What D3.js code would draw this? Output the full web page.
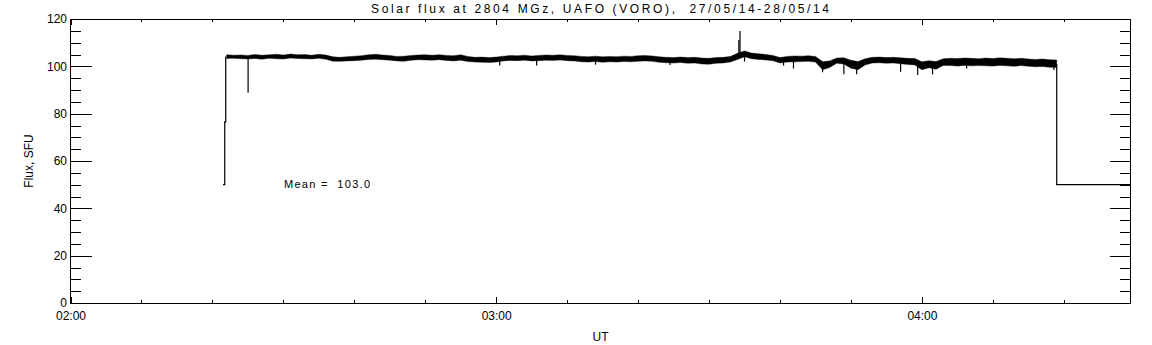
<!DOCTYPE html>
<html>
<head>
<meta charset="utf-8">
<script src="https://cdn.jsdelivr.net/npm/d3@7"></script>
<style>
  body { margin: 0; background: #fff; }
  text { font-family: "Liberation Sans", Arial, sans-serif; fill: #000; white-space: pre; }
</style>
</head>
<body>
<svg id="chart" width="1152" height="345"></svg>
<script>
// time is in minutes after 02:00 UT, flux in SFU
var xEndMinutes = 149.4;
var xMajorMinutes = [0, 60, 120];
var xTickLabels = ["02:00", "03:00", "04:00"];
var xMinorMinutes = [10, 20, 30, 40, 50, 70, 80, 90, 100, 110, 130, 140];
var yMajor = [0, 20, 40, 60, 80, 100, 120];
var yMinor = [5, 10, 15, 25, 30, 35, 45, 50, 55, 65, 70, 75, 85, 90, 95, 105, 110, 115];

// receiver switched on: 50 -> ~76 -> ~104
var onsetT = [21.5, 21.74, 21.74, 21.88, 21.88];
var onsetV = [50, 50, 76.5, 76.5, 104.2];

// one sample per minute from 02:22 to 04:19, upper and lower edge of the noisy trace
var bandStart = 22;
var fluxHi = [
  104.9, 104.7, 104.8, 104.6, 105.0, 104.7, 104.9, 105.1, 104.8, 105.2, 104.9, 105.0, 104.7, 105.1, 104.8,
  104.0, 103.8, 104.1, 104.3, 104.5,
  104.9, 105.1, 104.8, 104.6,
  104.2, 104.3, 104.6, 104.8, 104.9, 104.7, 104.9, 104.6,
  104.5, 104.9, 104.2, 103.8, 103.9, 103.7, 103.9, 104.3, 104.6, 104.5, 104.7, 104.4, 104.6, 104.8, 104.7,
  104.9, 104.6, 104.5, 104.2, 104.1, 104.3, 104.0, 104.2, 104.1, 104.3, 104.2, 104.5, 104.6, 104.4, 104.0,
  103.8, 103.7, 103.9,
  103.7, 103.8, 103.5, 103.4, 103.7, 103.8, 104.2,
  105.5, 106.5, 105.6, 105.3, 105.0, 104.6,
  103.7, 104.2, 104.4, 104.3, 104.5, 104.2, 102.0, 102.3, 103.5, 103.6, 102.6, 102.0, 103.2, 103.8, 103.9,
  103.7, 103.8, 103.6, 103.4, 103.3, 101.9, 102.4, 102.0, 103.2, 103.4, 103.3, 103.5, 103.4, 103.2, 103.5,
  103.3, 103.6, 103.4, 103.2, 103.4, 103.1, 102.9, 103.1, 102.8, 102.7
];
var fluxLo = [
  103.3, 103.4, 103.2, 103.1, 103.3, 103.0, 103.4, 103.2, 103.1, 103.5, 103.3, 103.2, 103.1, 103.4, 103.0,
  102.2, 102.1, 102.3, 102.4, 102.6,
  102.9, 103.0, 102.8, 102.6,
  102.3, 102.1, 102.6, 102.8, 102.7, 102.6, 102.8, 102.5,
  102.3, 102.6, 102.0, 101.8, 101.7, 101.6, 101.8, 102.3, 102.5, 102.4, 102.6, 102.3, 102.4, 102.6, 102.5,
  102.7, 102.4, 102.3, 101.9, 101.8, 102.0, 101.7, 101.9, 101.8, 102.0, 101.9, 102.2, 102.3, 102.1, 101.7,
  101.5, 101.4, 101.6,
  101.3, 101.4, 101.0, 100.9, 101.3, 101.4, 101.8,
  102.9, 104.0, 103.2, 102.9, 102.7, 102.4,
  101.4, 101.8, 101.9, 102.0, 102.1, 101.8, 98.6, 99.5, 101.3, 101.0, 99.2, 98.6, 100.6, 101.4, 101.5,
  101.3, 101.4, 101.1, 100.8, 100.6, 98.6, 99.4, 98.8, 100.4, 100.3, 100.1, 100.4, 100.2, 100.3, 100.2,
  100.1, 100.4, 100.2, 100.0, 100.3, 100.0, 99.8, 99.9, 99.6, 99.5
];

// short excursions (needles) off the trace
var spikeT = [25.03, 60.5, 65.7, 74.0, 84.5, 94.2, 94.36, 95.0, 100.5, 101.9, 106.0, 109.0, 110.8, 117.0, 119.4, 121.5, 126.3, 138.6];
var spikeV = [88.8, 100.3, 100.3, 100.7, 100.6, 111.1, 114.9, 102.0, 100.3, 99.1, 97.5, 96.7, 96.7, 97.7, 96.3, 96.6, 99.1, 98.4];

// end of the session: drop back to 50
var dropT = [139.0, 139.0, xEndMinutes];
var dropV = [101.0, 50, 50];

var meanLabel = "Mean =  103.0";

var svg = d3.select("#chart");
var plotLeft = 70.5, plotRight = 1130.5, plotTop = 19, plotBottom = 303;

var x = d3.scaleLinear().domain([0, xEndMinutes]).range([plotLeft, plotRight]);
var y = d3.scaleLinear().domain([0, 120]).range([plotBottom, plotTop]);

function styleAxis(g) {
  g.select(".domain").remove();
  g.selectAll("line").attr("stroke", "#000").attr("shape-rendering", "crispEdges");
  g.selectAll("text").attr("font-size", 12).attr("fill", "#000")
    .attr("font-family", "'Liberation Sans', Arial, sans-serif");
}

// bottom and top axes
svg.append("g").attr("transform", "translate(0," + plotBottom + ")")
  .call(d3.axisBottom(x).tickValues(xMajorMinutes).tickSize(-6).tickPadding(8.5)
    .tickFormat(function (d, i) { return xTickLabels[i]; }))
  .call(styleAxis);
svg.append("g").attr("transform", "translate(0," + plotBottom + ")")
  .call(d3.axisBottom(x).tickValues(xMinorMinutes).tickSize(-3).tickFormat(""))
  .call(styleAxis);
svg.append("g").attr("transform", "translate(0," + plotTop + ")")
  .call(d3.axisTop(x).tickValues(xMajorMinutes).tickSize(-6).tickFormat(""))
  .call(styleAxis);
svg.append("g").attr("transform", "translate(0," + plotTop + ")")
  .call(d3.axisTop(x).tickValues(xMinorMinutes).tickSize(-3).tickFormat(""))
  .call(styleAxis);

// left and right axes
svg.append("g").attr("transform", "translate(" + plotLeft + ",0)")
  .call(d3.axisLeft(y).tickValues(yMajor).tickSize(-21).tickPadding(3.5).tickFormat(d3.format("d")))
  .call(styleAxis);
svg.append("g").attr("transform", "translate(" + plotLeft + ",0)")
  .call(d3.axisLeft(y).tickValues(yMinor).tickSize(-10.5).tickFormat(""))
  .call(styleAxis);
svg.append("g").attr("transform", "translate(" + plotRight + ",0)")
  .call(d3.axisRight(y).tickValues(yMajor).tickSize(-21).tickFormat(""))
  .call(styleAxis);
svg.append("g").attr("transform", "translate(" + plotRight + ",0)")
  .call(d3.axisRight(y).tickValues(yMinor).tickSize(-10.5).tickFormat(""))
  .call(styleAxis);

svg.append("rect")
  .attr("x", plotLeft).attr("y", plotTop)
  .attr("width", plotRight - plotLeft).attr("height", plotBottom - plotTop)
  .attr("fill", "none").attr("stroke", "#000").attr("shape-rendering", "crispEdges");

// the trace
var line = d3.line().x(function (d) { return x(d[0]); }).y(function (d) { return y(d[1]); });

svg.append("path")
  .datum(onsetT.map(function (t, i) { return [t, onsetV[i]]; }))
  .attr("d", line).attr("fill", "none").attr("stroke", "#000").attr("stroke-width", 1.2);

var band = fluxHi.map(function (h, i) { return { t: bandStart + i, hi: h, lo: fluxLo[i] }; });
var area = d3.area()
  .x(function (d) { return x(d.t); })
  .y0(function (d) { return y(d.lo); })
  .y1(function (d) { return y(d.hi); });
svg.append("path").datum(band).attr("d", area)
  .attr("fill", "#000").attr("stroke", "#000").attr("stroke-width", 0.4);

function bandMid(t) {
  var i = Math.max(0, Math.min(band.length - 1, Math.round(t - bandStart)));
  return (band[i].hi + band[i].lo) / 2;
}
svg.append("g").selectAll("line")
  .data(spikeT.map(function (t, i) { return [t, spikeV[i]]; }))
  .enter().append("line")
  .attr("x1", function (d) { return x(d[0]); })
  .attr("x2", function (d) { return x(d[0]); })
  .attr("y1", function (d) { return y(bandMid(d[0])); })
  .attr("y2", function (d) { return y(d[1]); })
  .attr("stroke", "#000").attr("stroke-width", 1.2);

svg.append("path")
  .datum(dropT.map(function (t, i) { return [t, dropV[i]]; }))
  .attr("d", line).attr("fill", "none").attr("stroke", "#000").attr("stroke-width", 1.2);

// texts
svg.append("text").attr("x", 600).attr("y", 13).attr("text-anchor", "middle")
  .attr("font-size", 12).attr("textLength", 458).attr("lengthAdjust", "spacing")
  .text("Solar flux at 2804 MGz, UAFO (VORO),  27/05/14-28/05/14");
svg.append("text").attr("x", 284).attr("y", 188)
  .attr("font-size", 11).attr("textLength", 86).attr("lengthAdjust", "spacing")
  .text(meanLabel);
svg.append("text").attr("x", (plotLeft + plotRight) / 2).attr("y", 341).attr("text-anchor", "middle")
  .attr("font-size", 12).text("UT");
svg.append("text").attr("transform", "translate(33," + (plotTop + plotBottom) / 2 + ") rotate(-90)")
  .attr("text-anchor", "middle").attr("font-size", 12).text("Flux, SFU");
</script>
</body>
</html>
